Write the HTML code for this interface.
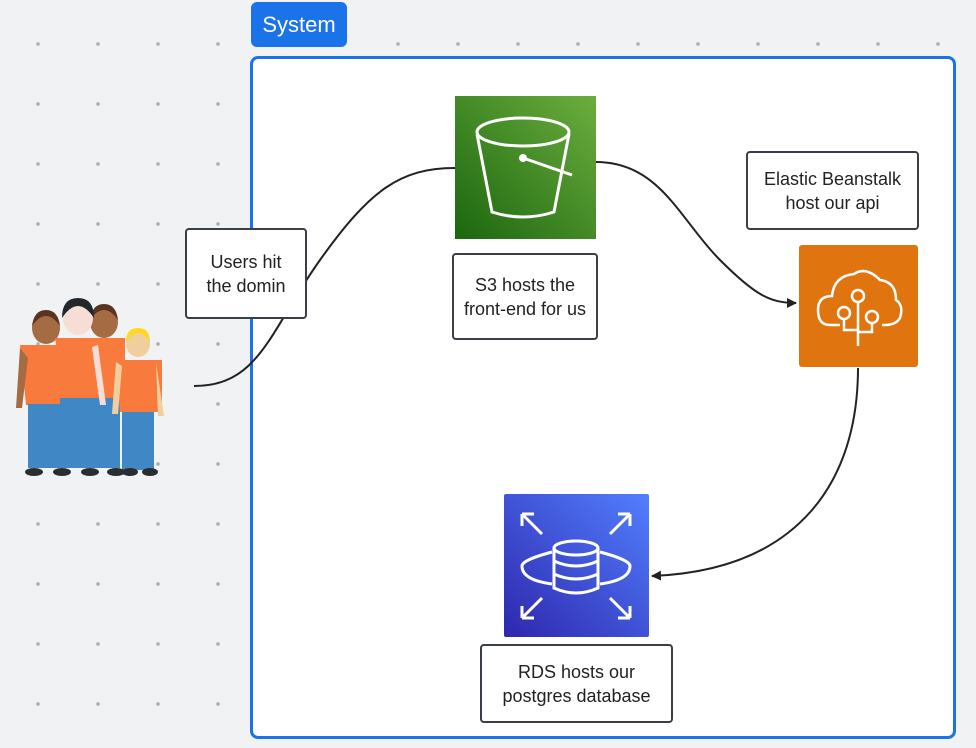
<!DOCTYPE html>
<html><head><style>
body{margin:0;width:976px;height:748px;overflow:hidden;background:#f1f2f4;
background-image:radial-gradient(circle,#a9acb3 1.6px,transparent 2px);background-size:60px 60px;background-position:8px 14px;
font-family:"Liberation Sans",sans-serif;position:relative}
.abs{position:absolute}
.box{position:absolute;background:#fff;border:2px solid #3a3f47;border-radius:4px;display:flex;align-items:center;justify-content:center;text-align:center;font-size:18px;color:#222;line-height:24px;box-sizing:border-box}
</style></head><body>
<div class="abs" style="left:250px;top:56px;width:706px;height:683px;background:#fff;border:3px solid #1a73e8;border-radius:8px;box-sizing:border-box"></div>
<div class="abs" style="left:251px;top:2px;width:96px;height:45px;background:#1a73e8;border-radius:6px;color:#fff;font-size:22px;line-height:45px;text-align:center">System</div>

<svg class="abs" style="left:0;top:0" width="976" height="748">
<defs><linearGradient id="g1" x1="0" y1="1" x2="1" y2="0"><stop offset="0" stop-color="#1b660f"/><stop offset="1" stop-color="#6cae3e"/></linearGradient>
<linearGradient id="g2" x1="0" y1="1" x2="1" y2="0"><stop offset="0" stop-color="#2e27ad"/><stop offset="1" stop-color="#527fff"/></linearGradient>
<marker id="a" markerWidth="10" markerHeight="10" refX="9" refY="5" orient="auto" markerUnits="userSpaceOnUse"><path d="M0,0L10,5L0,10z" fill="#222"/></marker></defs>
<path d="M194,386 C260,386 270,330 320,260 C370,190 400,168 455,168" fill="none" stroke="#222" stroke-width="2"/>
<path d="M596,162 C660,162 680,220 720,260 C755,295 770,303 796,303" fill="none" stroke="#222" stroke-width="2" marker-end="url(#a)"/>
<path d="M858,368 C858,480 800,570 652,576" fill="none" stroke="#222" stroke-width="2" marker-end="url(#a)"/>
<rect x="455" y="96" width="141" height="143" fill="url(#g1)"/>
<g fill="none" stroke="#fff" stroke-width="3"><ellipse cx="523" cy="132" rx="46" ry="14"/><path d="M477,134 L492,212 Q523,222 554,212 L569,134"/><path d="M523,158 L572,175" /></g>
<circle cx="523" cy="158" r="4" fill="#fff"/>
<rect x="799" y="245" width="119" height="122" rx="3" fill="#e07510"/>
<g fill="none" stroke="#fff" stroke-width="2.5"><path d="M840,325 H830 Q818,325 818,310 Q818,296 832,296 Q834,276 854,274 Q866,266 880,280 Q896,282 896,300 Q904,305 900,318 Q896,325 885,325 H882"/>
<circle cx="858" cy="296" r="6"/><circle cx="844" cy="313" r="6"/><circle cx="872" cy="317" r="6"/>
<path d="M858,302 V346 M844,319 V330 H858 M872,323 V332 H858"/></g>
<rect x="504" y="494" width="145" height="143" rx="2" fill="url(#g2)"/>
<g fill="none" stroke="#fff" stroke-width="3"><path d="M522,514 l20,20 M522,514 h12 M522,514 v12 M630,514 l-20,20 M630,514 h-12 M630,514 v12 M522,618 l20,-20 M522,618 h12 M522,618 v-12 M630,618 l-20,-20 M630,618 h-12 M630,618 v-12"/>
<ellipse cx="576" cy="548" rx="22" ry="7"/><path d="M554,548 V588 Q576,598 598,588 V548 M554,561 Q576,571 598,561 M554,574 Q576,584 598,574"/>
<path d="M552,552 Q522,560 522,566 Q522,580 552,584 M600,552 Q630,560 630,566 Q630,580 600,584"/></g>
<g>
<ellipse cx="46" cy="328" rx="14" ry="16" fill="#a56b43"/><path d="M32,326 q14,-20 28,0 q-2,-16 -14,-16 q-12,0 -14,16z" fill="#5b3421"/>
<ellipse cx="104" cy="322" rx="14" ry="16" fill="#a56b43"/><path d="M90,320 q14,-20 28,0 q-2,-16 -14,-16 q-12,0 -14,16z" fill="#5b3421"/>
<ellipse cx="78" cy="318" rx="15" ry="17" fill="#f7ded5"/><path d="M62,318 q16,-24 32,0 q0,-20 -16,-20 q-16,0 -16,20z" fill="#22272b"/>
<path d="M20,345 h50 v60 h-44z" fill="#f87a3c"/><path d="M20,348 l-4,60 h6 l6,-50z M64,350 l8,60 h-6z" fill="#a56b43"/>
<path d="M28,404 h42 v64 h-42z" fill="#3f88c5"/>
<path d="M55,338 h70 v60 h-60z" fill="#f87a3c"/><path d="M60,398 h60 v70 h-60z" fill="#3f88c5"/>
<path d="M98,345 l8,60 h-6 l-8,-58z" fill="#f7ded5"/>
<ellipse cx="138" cy="344" rx="12" ry="13" fill="#f1cf9d"/><path d="M126,342 q12,-18 24,0 q0,-14 -12,-14 q-12,0 -12,14z" fill="#ffd81f"/>
<path d="M116,360 h46 v52 h-42z" fill="#f87a3c"/><path d="M116,362 l-4,52 h6 l4,-48z M156,362 l8,54 h-6z" fill="#f1cf9d"/>
<path d="M122,412 h32 v58 h-32z" fill="#3f88c5"/>
<g fill="#2a2e30"><ellipse cx="34" cy="472" rx="9" ry="4"/><ellipse cx="62" cy="472" rx="9" ry="4"/><ellipse cx="90" cy="472" rx="9" ry="4"/><ellipse cx="116" cy="472" rx="9" ry="4"/><ellipse cx="130" cy="472" rx="8" ry="4"/><ellipse cx="150" cy="472" rx="8" ry="4"/></g>
</g>
</svg>

<div class="box" style="left:185px;top:228px;width:122px;height:91px">Users hit<br>the domin</div>
<div class="box" style="left:452px;top:253px;width:146px;height:87px">S3 hosts the<br>front-end for us</div>
<div class="box" style="left:746px;top:151px;width:173px;height:79px">Elastic Beanstalk<br>host our api</div>
<div class="box" style="left:480px;top:644px;width:193px;height:79px">RDS hosts our<br>postgres database</div>
</body></html>
